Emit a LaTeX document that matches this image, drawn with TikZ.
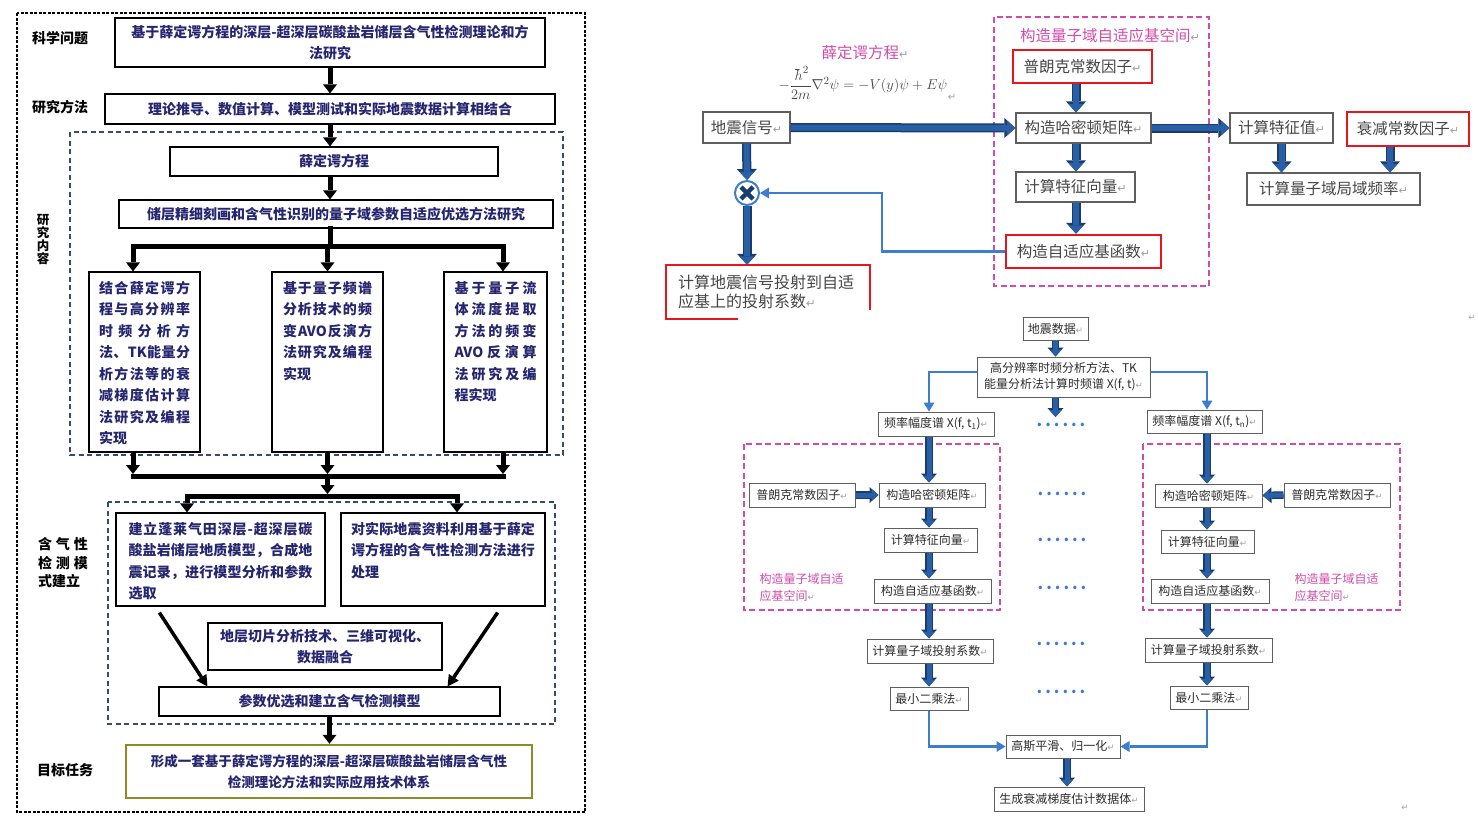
\documentclass[tikz,border=0pt]{standalone}
\usepackage{amsmath}
\usepackage{fontspec}
\setmainfont{Noto Sans CJK SC}
\newfontfamily\markfont{DejaVu Sans}
\usepackage{xcolor}
\usepackage{tikz}
\usetikzlibrary{positioning,arrows.meta,calc}

\definecolor{navytext}{RGB}{38,38,112}
\definecolor{olivebd}{RGB}{140,140,40}
\definecolor{grpblue}{RGB}{55,75,110}
\definecolor{arrdark}{RGB}{25,60,110}
\definecolor{arrblue}{RGB}{40,95,165}
\definecolor{thinblue}{RGB}{60,125,205}
\definecolor{magbd}{RGB}{210,75,170}
\definecolor{redbd}{RGB}{232,20,30}
\definecolor{graytext}{RGB}{70,70,70}
\definecolor{darktext}{RGB}{45,45,45}
\definecolor{boxgray}{RGB}{95,95,95}
\definecolor{markgray}{RGB}{160,160,160}

\newcommand\setsz[2]{\fontsize{#1}{#2}\selectfont}
\makeatletter
% paragraph mark, scaled to the current size
\newcommand\crm{{\markfont\color{markgray}\fontsize{\fpeval{0.72*\f@size}}{0}\selectfont\char"21B5}}
% one line spread to a fixed width, glue between every token
\def\jline#1#2{\hbox to #1{\jl@first#2\relax}}
\def\jl@first#1{#1\jl@next}
\def\jl@next#1{\ifx\relax#1\else\hfil#1\expandafter\jl@next\fi}
\makeatother
\newcommand\colv[2]{\vbox to #1{\baselineskip=21.5pt\vskip5pt #2\vfil}}
\newcommand\dotrow{\textbf{.\kern3pt.\kern3pt.\kern3pt.\kern3pt.\kern3pt.}}

\tikzset{
  sz/.style 2 args={minimum width=#1pt, minimum height=#2pt},
  lbl/.style      ={font=\bfseries\setsz{14}{18}, align=center},
  lbox/.style     ={draw, line width=1.2pt, fill=white, align=center, text=navytext, font=\bfseries\setsz{14}{21}, inner sep=2pt},
  colbox/.style   ={draw, line width=1.2pt, fill=white, text=navytext, font=\bfseries\setsz{14}{21.5}, inner ysep=4pt},
  outdash/.style  ={draw=black, line width=1.3pt, dash pattern=on 3pt off 1.5pt},
  grpdash/.style  ={draw=grpblue, line width=1.3pt, dash pattern=on 5pt off 3.5pt},
  magdash/.style  ={draw=magbd, line width=2pt, dash pattern=on 6pt off 3.5pt},
  blkarr/.style   ={draw=black, line width=5pt, -{Triangle[length=9pt,width=14pt,line width=0pt]}},
  blkline/.style  ={draw=black, line width=5pt, line cap=rect},
  diagarr/.style  ={draw=black, line width=3.5pt, -{Triangle[length=11pt,width=12pt,line width=0pt]}},
  rbox/.style     ={draw=boxgray, line width=1.2pt, fill=white, text=graytext, font=\setsz{15.5}{19}, inner sep=2pt},
  redbox/.style   ={rbox, draw=redbd, line width=2.5pt},
  maglbl/.style   ={text=magbd, font=\setsz{15.5}{19}},
  sbox/.style     ={draw=boxgray, line width=1pt, fill=white, text=darktext, font=\setsz{12}{16}, align=center, inner sep=1pt},
  smag/.style     ={text=magbd, font=\setsz{12}{17}, align=left, anchor=west},
  dotsty/.style   ={text=thinblue, font=\setsz{16}{16}, inner sep=1pt},
  bigarr/.style   ={draw=arrdark, line width=9pt, -{Triangle[length=11pt,width=20pt,line width=0pt]},
                    postaction={draw=arrblue, line width=6pt, -{Triangle[length=8.5pt,width=15pt,line width=0pt]}}},
  midarr/.style   ={draw=arrdark, line width=7.5pt, -{Triangle[length=9pt,width=16pt,line width=0pt]},
                    postaction={draw=arrblue, line width=5pt, -{Triangle[length=7pt,width=12pt,line width=0pt]}}},
  thinarr/.style  ={draw=thinblue, line width=2.2pt, -{Triangle[length=9pt,width=11pt,line width=0pt]}},
}

\begin{document}
\begin{tikzpicture}[x=1pt, y=-1pt]
  \fill[white] (0,0) rectangle (1478,828);
  \useasboundingbox (0,0) rectangle (1478,828);

  % ---------------- left: research plan ----------------
  \draw[outdash] (17,13) rectangle (585,812);
  \draw[grpdash] (70,132) rectangle (563,455);
  \draw[grpdash] (108,502) rectangle (555,724);

  \node[lbl] (qlab) at (60,38) {科学问题};
  \node[lbl] (mlab) at (60,107) {研究方法};
  \node[lbl, font=\bfseries\setsz{12.5}{13}] (clab) at (43,240) {研\\究\\内\\容};
  \node[lbl, align=left, font=\bfseries\setsz{14}{18.5}] (glab) at (63,563) {\jline{50pt}{含气性}\\\jline{50pt}{检测模}\\式建立};
  \node[lbl] (tlab) at (65,770) {目标任务};

  \node[lbox, line width=2.5pt, sz={430}{49}] (q1) at (330,42.5) {基于薛定谔方程的深层-超深层碳酸盐岩储层含气性检测理论和方\\法研究};
  \node[lbox, sz={450}{30}] (m1) at (330,109) {理论推导、数值计算、模型测试和实际地震数据计算相结合};
  \node[lbox, sz={328}{29}] (c1) at (334,161.5) {薛定谔方程};
  \node[lbox, sz={434}{28}] (c2) at (336,214) {储层精细刻画和含气性识别的量子域参数自适应优选方法研究};

  \node[colbox, sz={111}{180}, inner xsep=10pt] (c3) at (144.5,362) {\colv{172pt}{%
    \jline{91pt}{结合薛定谔方}\jline{91pt}{程与高分辨率}\jline{91pt}{时频分析方}\jline{91pt}{法、{TK}能量分}%
    \jline{91pt}{析方法等的衰}\jline{91pt}{减梯度估计算}\jline{91pt}{法研究及编程}\hbox{实现}}};
  \node[colbox, sz={111}{180}, inner xsep=11pt] (c4) at (327.5,362) {\colv{172pt}{%
    \jline{89pt}{基于量子频谱}\jline{89pt}{分析技术的频}\jline{89pt}{变{AVO}反演方}\jline{89pt}{法研究及编程}\hbox{实现}}};
  \node[colbox, sz={103}{180}, inner xsep=10.5pt] (c5) at (495.5,362) {\colv{172pt}{%
    \jline{82pt}{基于量子流}\jline{82pt}{体流度提取}\jline{82pt}{方法的频变}\jline{82pt}{{AVO}反演算}%
    \jline{82pt}{法研究及编}\hbox{程实现}}};

  \node[colbox, sz={209}{93}, inner xsep=12.5pt] (g1) at (220.5,559.5) {\colv{85pt}{%
    \jline{184pt}{建立蓬莱气田深层-超深层碳}\jline{184pt}{酸盐岩储层地质模型，合成地}%
    \jline{184pt}{震记录，进行模型分析和参数}\hbox{选取}}};
  \node[colbox, sz={204}{93}, inner xsep=10pt] (g2) at (443,559.5) {\colv{85pt}{%
    \jline{184pt}{对实际地震资料利用基于薛定}\jline{184pt}{谔方程的含气性检测方法进行}\hbox{处理}}};
  \node[lbox, sz={234}{47}] (g3) at (325,646.5) {地层切片分析技术、三维可视化、\\数据融合};
  \node[lbox, sz={341}{29}] (g4) at (329.5,701.5) {参数优选和建立含气检测模型};
  \node[lbox, draw=olivebd, line width=2.5pt, sz={406}{53}, font=\bfseries\setsz{13.5}{21}] (g5) at (329,771.5) {形成一套基于薛定谔方程的深层-超深层碳酸盐岩储层含气性\\检测理论方法和实际应用技术体系};

  \coordinate (spine) at (330,0);
  \coordinate (sL) at (133,246);
  \coordinate (sR) at (503,246);
  \coordinate (jL) at (133,476);
  \coordinate (jR) at (503,476);
  \coordinate (kL) at (187,496);
  \coordinate (kR) at (457,496);

  \draw[blkarr] (q1.south) -- (m1.north);
  \draw[blkarr] (m1.south) -- (spine |- c1.north);
  \draw[blkarr] (spine |- c1.south) -- (spine |- c2.north);
  \draw[blkline] (spine |- c2.south) -- (spine |- sL);
  \draw[blkline] (sL) -- (sR);
  \draw[blkarr] (sL) -- (sL |- c3.north);
  \draw[blkarr] (c4.north |- sL) -- (c4.north);
  \draw[blkarr] (sR) -- (sR |- c5.north);

  \draw[blkarr] (jL |- c3.south) -- ([yshift=2pt]jL);
  \draw[blkarr] (c4.south) -- ([yshift=2pt]c4.south |- jL);
  \draw[blkarr] (jR |- c5.south) -- ([yshift=2pt]jR);
  \draw[blkline] (jL) -- (jR);
  \draw[blkarr] (c4.south |- jL) -- ([yshift=2pt]c4.south |- kL);
  \draw[blkline] (kL) -- (kR);
  \draw[blkarr] (kL) -- (kL |- g1.north);
  \draw[blkarr] (kR) -- (kR |- g2.north);

  \draw[diagarr] ([xshift=44pt,yshift=-6pt]g1.south west) -- ([xshift=49pt]g4.north west);
  \draw[diagarr] ([xshift=-48pt,yshift=-6pt]g2.south east) -- ([xshift=-53pt]g4.north east);
  \draw[blkarr] (g4.south) -- (g4.south |- g5.north);

  % ---------------- right, top: adaptive basis ----------------
  \draw[magdash] (994,17) rectangle (1209,286);
  \node[maglbl] (eqt) at (865,53) {薛定谔方程\crm};
  \node[text=graytext, font=\setsz{15}{17}] (eq) at (863,83) {$-\dfrac{\hbar^2}{2m}\nabla^2\psi=-V(y)\psi+E\psi$};
  \node[font=\setsz{14}{14}] (eqm) at (952,97) {\crm};
  \node[maglbl] (qtit) at (1110,36) {构造量子域自适应基空间\crm};

  \node[rbox, sz={87}{31}] (sig) at (746.5,127.5) {地震信号\crm};
  \node[redbox, sz={139}{33}] (planck) at (1082.5,66.5) {普朗克常数因子\crm};
  \node[rbox, sz={135}{30}] (ham) at (1083.5,128) {构造哈密顿矩阵\crm};
  \node[rbox, sz={119}{30}] (evec) at (1075.5,187) {计算特征向量\crm};
  \node[redbox, sz={155}{33}] (basis) at (1083.5,251.5) {构造自适应基函数\crm};
  \node[rbox, sz={103}{30}] (eigv) at (1281.5,128) {计算特征值\crm};
  \node[redbox, sz={122}{34}] (decay) at (1408,129) {衰减常数因子\crm};
  \node[rbox, sz={173}{32}] (lfreq) at (1333.5,189) {计算量子域局域频率\crm};
  \node[text=graytext, font=\setsz{16}{19}, align=left, text width=180pt, inner xsep=12pt, minimum height=54pt] (proj) at (768,292) {计算地震信号投射到自适\\应基上的投射系数\crm};
  \draw[redbd, line width=2.5pt] ([xshift=72pt]proj.south west) -- (proj.south west) -- (proj.north west) -- (proj.north east) -- ([yshift=9pt]proj.south east);

  \coordinate (spR) at (1076,0);
  \draw[bigarr] (sig.east) -- (ham.west);
  \draw[bigarr] (ham.east) -- (eigv.west);
  \draw[bigarr] (spR |- planck.south) -- (spR |- ham.north);
  \draw[bigarr] (spR |- ham.south) -- (spR |- evec.north);
  \draw[bigarr] (spR |- evec.south) -- (spR |- basis.north);
  \draw[bigarr] (eigv.south) -- (eigv.south |- lfreq.north);
  \draw[bigarr] ([xshift=-18pt]decay.south) -- ([xshift=-18pt]decay.south |- lfreq.north);

  \node[circle, draw=thinblue, line width=2pt, fill=white, minimum size=24pt, inner sep=0pt,
        path picture={\draw[arrdark, line width=4.5pt] ($(path picture bounding box.center)+(-6,-6)$) -- ($(path picture bounding box.center)+(6,6)$);
                      \draw[arrdark, line width=4.5pt] ($(path picture bounding box.center)+(-6,6)$) -- ($(path picture bounding box.center)+(6,-6)$);}] (mult) at (747,193) {};
  \draw[bigarr] (sig.south) -- (mult.north);
  \draw[bigarr] (mult.south) -- (mult.south |- proj.north);
  \draw[thinarr] (basis.west) -- ++(-123,0) |- (mult.east);

  % ---------------- right, bottom: attenuation gradient ----------------
  \draw[magdash] (744,444) rectangle (1000,610);
  \draw[magdash] (1143,444) rectangle (1400,610);

  \node[sbox, sz={65}{23}] (data) at (1055.5,328.5) {地震数据\crm};
  \node[sbox, sz={173}{40}] (tf) at (1063.5,377) {高分辨率时频分析方法、TK\\能量分析法计算时频谱 X(f, t)\crm};
  \node[sbox, sz={116}{24}] (spec1) at (936,424) {频率幅度谱 X(f, t\textsubscript{1})\crm};
  \node[sbox, sz={115}{23}] (specn) at (1204.5,421.5) {频率幅度谱 X(f, t\textsubscript{n})\crm};

  \node[sbox, sz={106}{24}] (planckL) at (802,495) {普朗克常数因子\crm};
  \node[sbox, sz={106}{24}] (hamL) at (932,495) {构造哈密顿矩阵\crm};
  \node[sbox, sz={93}{24}] (evecL) at (930.5,540) {计算特征向量\crm};
  \node[sbox, sz={117}{24}] (basisL) at (932.5,591) {构造自适应基函数\crm};
  \node[sbox, sz={126}{24}] (projL) at (930,651) {计算量子域投射系数\crm};
  \node[sbox, sz={78}{23}] (lsqL) at (929,698.5) {最小二乘法\crm};
  \node[smag] (labL) at (756,587) {构造量子域自适\\应基空间\crm};

  \node[sbox, sz={107}{23}] (hamR) at (1208.5,495.5) {构造哈密顿矩阵\crm};
  \node[sbox, sz={106}{24}] (planckR) at (1337,495) {普朗克常数因子\crm};
  \node[sbox, sz={93}{23}] (evecR) at (1207.5,541.5) {计算特征向量\crm};
  \node[sbox, sz={118}{24}] (basisR) at (1210,591) {构造自适应基函数\crm};
  \node[sbox, sz={127}{24}] (projR) at (1208.5,650) {计算量子域投射系数\crm};
  \node[sbox, sz={78}{23}] (lsqR) at (1209,697.5) {最小二乘法\crm};
  \node[smag] (labR) at (1291,587) {构造量子域自适\\应基空间\crm};

  \node[sbox, sz={114}{23}] (gauss) at (1063,746.5) {高斯平滑、归一化\crm};
  \node[sbox, sz={150}{24}] (out) at (1069,799) {生成衰减梯度估计数据体\crm};

  \node[dotsty] (dt1) at (1061,425) {\dotrow};
  \node[dotsty] (dt2) at (1062,494) {\dotrow};
  \node[dotsty] (dt3) at (1062,540) {\dotrow};
  \node[dotsty] (dt4) at (1062,588) {\dotrow};
  \node[dotsty] (dt5) at (1061,644) {\dotrow};
  \node[dotsty] (dt6) at (1061,692) {\dotrow};

  \node[font=\setsz{12}{12}] (strayA) at (1472,318) {\crm};
  \node[font=\setsz{12}{12}] (strayB) at (1405,808) {\crm};

  \coordinate (colL) at (929,0);
  \coordinate (colR) at (1207,0);
  \draw[midarr] (data.south) -- (data.south |- tf.north);
  \draw[midarr, shorten >=5pt] (data.south |- tf.south) -- (data.south |- dt1.north);
  \draw[thinarr] ([yshift=5pt]tf.west) -| (colL |- spec1.north);
  \draw[thinarr] ([yshift=5pt]tf.east) -| (colR |- specn.north);

  \draw[midarr] (colL |- spec1.south) -- (colL |- hamL.north);
  \draw[midarr] (colL |- hamL.south) -- (colL |- evecL.north);
  \draw[midarr] (colL |- evecL.south) -- (colL |- basisL.north);
  \draw[midarr] (colL |- basisL.south) -- (colL |- projL.north);
  \draw[midarr] (colL |- projL.south) -- (colL |- lsqL.north);
  \draw[midarr] (planckL.east) -- (hamL.west);

  \draw[midarr] (colR |- specn.south) -- (colR |- hamR.north);
  \draw[midarr] (colR |- hamR.south) -- (colR |- evecR.north);
  \draw[midarr] (colR |- evecR.south) -- (colR |- basisR.north);
  \draw[midarr] (colR |- basisR.south) -- (colR |- projR.north);
  \draw[midarr] (colR |- projR.south) -- (colR |- lsqR.north);
  \draw[midarr] (planckR.west) -- (hamR.east);

  \draw[thinarr] (lsqL.south) |- (gauss.west);
  \draw[thinarr] (colR |- lsqR.south) |- (gauss.east);
  \draw[midarr] ([xshift=4pt]gauss.south) -- ([xshift=4pt]gauss.south |- out.north);
\end{tikzpicture}
\end{document}
